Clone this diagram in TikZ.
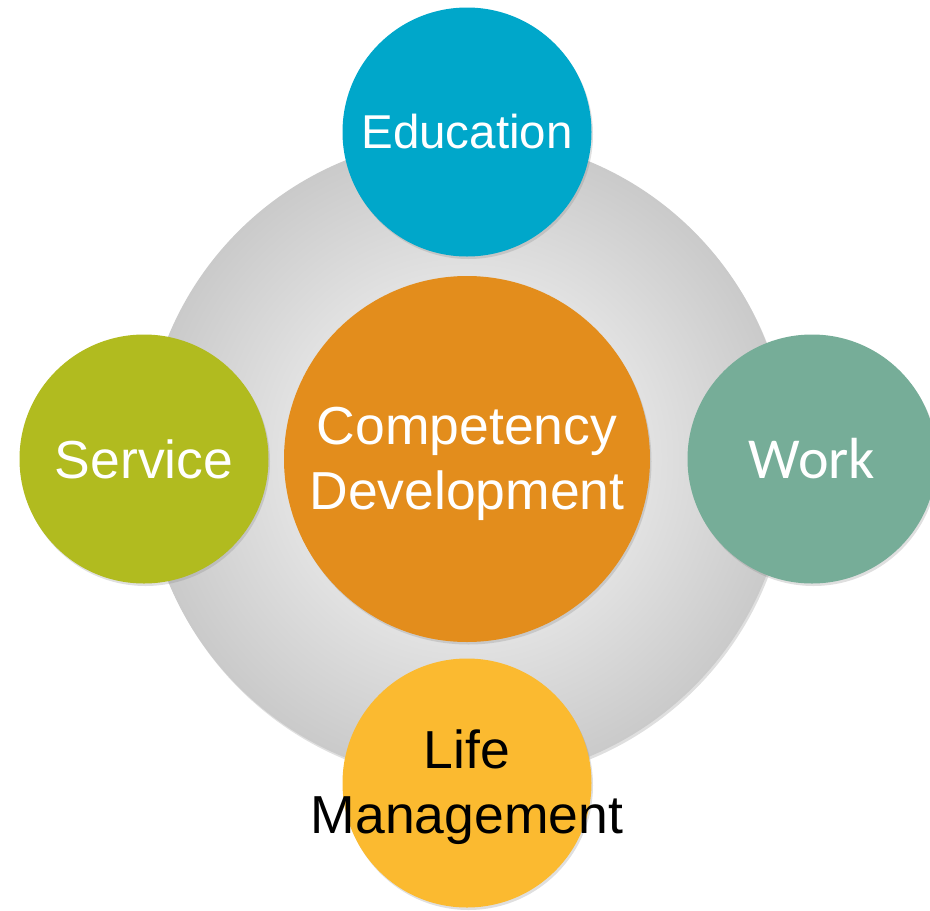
\documentclass[tikz,border=0pt]{standalone}
\usepackage{fontspec}
\setmainfont{Liberation Sans}
\newfontfamily\workfont{Carlito}
\usepackage{tikz}
\usepackage{xcolor}
\usetikzlibrary{shadows}

\definecolor{ringin}{RGB}{226,226,226}
\definecolor{ringout}{RGB}{202,202,202}
\definecolor{coreorange}{RGB}{227,141,28}
\definecolor{edublue}{RGB}{0,167,202}
\definecolor{servgreen}{RGB}{177,187,31}
\definecolor{worksea}{RGB}{118,173,152}
\definecolor{lifeyellow}{RGB}{251,186,48}
\pgfdeclareradialshading{ringshade}{\pgfpoint{0bp}{0bp}}{color(0bp)=(ringin); color(14bp)=(ringin); color(25bp)=(ringout); color(50bp)=(ringout)}

\begin{document}
\begin{tikzpicture}[x=1pt,y=-1pt,
    bubble/.style={circle,minimum size=249pt,inner sep=0pt,
        drop shadow={shadow xshift=1.5pt,shadow yshift=-2.5pt,opacity=0.25}},
    caption/.style={text=white,align=center,font=\fontsize{53.5}{65}\selectfont}]
    \useasboundingbox (0,0) rectangle (930,911);
    \clip (0,0) rectangle (930,911);

    % grey disc behind everything
    \node[bubble,minimum size=644pt,shading=ringshade] (ring) at (466,459) {};
    \node[bubble,minimum size=366pt,fill=coreorange] (core) at (467,459) {};

    \node[bubble,fill=edublue] (edu) at (467,132) {};
    \node[bubble,fill=servgreen] (serv) at (144,459) {};
    \node[bubble,fill=worksea] (work) at (812,459) {};
    \node[bubble,fill=lifeyellow] (life) at (467,783) {};

    \node[caption] (coretext) at ([yshift=-5pt]core) {Competency\\Development};
    \node[caption,font=\fontsize{47.5}{58}\selectfont] (edutext) at (edu) {Education};
    \node[caption] (servtext) at (serv) {Service};
    \node[caption,font=\workfont\fontsize{58}{68}\selectfont] (worktext) at (work) {Work};
    \node[caption,text=black] (lifetext) at ([yshift=-4pt]life) {Life\\Management};
\end{tikzpicture}
\end{document}
